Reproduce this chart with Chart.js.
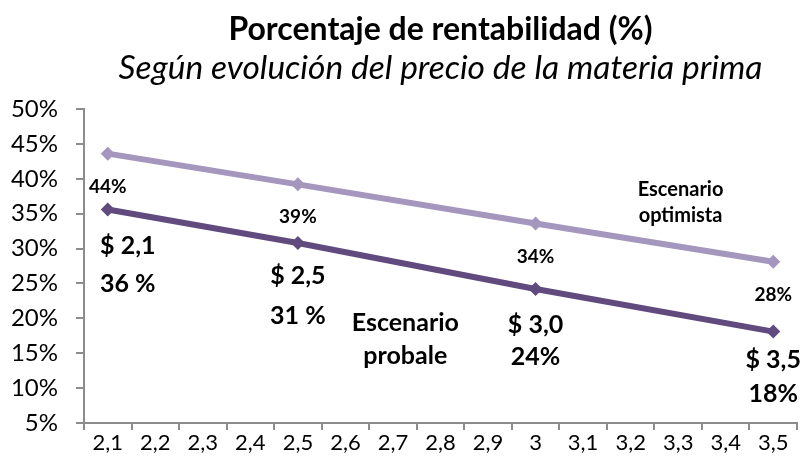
<!DOCTYPE html>
<html>
<head>
<meta charset="utf-8">
<script src="https://cdn.jsdelivr.net/npm/chart.js@4/dist/chart.umd.min.js"></script>
<style>
  html, body { margin: 0; padding: 0; background: #fff; }
  #wrap { width: 805px; height: 466px; }
</style>
</head>
<body>
<div id="wrap"><canvas id="chart" width="805" height="466"></canvas></div>
<script>
// x categories (price of raw material)
const categories = ["2,1", "2,2", "2,3", "2,4", "2,5", "2,6", "2,7", "2,8", "2,9", "3", "3,1", "3,2", "3,3", "3,4", "3,5"];

// rentabilidad (%) - only 4 prices have values
const optimista = [43.6, null, null, null, 39.2, null, null, null, null, 33.6, null, null, null, null, 28.1];
const probable  = [35.6, null, null, null, 30.8, null, null, null, null, 24.2, null, null, null, null, 18.1];

// label texts
const optimistaLabels = ["44%", "39%", "34%", "28%"];
const probablePrices = ["$ 2,1", "$ 2,5", "$ 3,0", "$ 3,5"];
const probablePcts = ["36 %", "31 %", "24%", "18%"];

const yTicks = [5, 10, 15, 20, 25, 30, 35, 40, 45, 50];

const FONT = "Lato, 'Open Sans', sans-serif";
const LIGHT = "#A596BE";
const DARK = "#614A7E";
const AXIS = "#8C8C8C";

// label offsets below the probable points (line 1 / line 2)
const off1 = [36, 33, 36, 28];
const off2 = [74, 73, 68, 62];

const pointLabels = {
    id: "pointLabels",
    afterDatasetsDraw(chart) {
        const ctx = chart.ctx;
        const x = chart.scales.x;
        const y = chart.scales.y;
        const area = chart.chartArea;
        const cx = (area.left + area.right) / 2;
        ctx.save();
        ctx.fillStyle = "#000";
        ctx.textAlign = "center";
        ctx.textBaseline = "middle";

        // titles, centred over the plot area like in excel
        ctx.font = "bold 32px " + FONT;
        ctx.fillText("Porcentaje de rentabilidad (%)", cx, 30);
        ctx.font = "italic 33.5px " + FONT;
        ctx.fillText("Según evolución del precio de la materia prima", cx, 68);

        // optimistic series: one label under each point
        ctx.font = "bold 19px " + FONT;
        let k = 0;
        chart.getDatasetMeta(0).data.forEach((pt, i) => {
            if (optimista[i] == null) return;
            ctx.fillText(optimistaLabels[k], pt.x, pt.y + 33);
            k++;
        });

        // probable series: price + percent
        ctx.font = "bold 25px " + FONT;
        k = 0;
        chart.getDatasetMeta(1).data.forEach((pt, i) => {
            if (probable[i] == null) return;
            const dx = k === 0 ? 20 : 0;
            ctx.fillText(probablePrices[k], pt.x + dx, pt.y + off1[k]);
            ctx.fillText(probablePcts[k], pt.x + dx, pt.y + off2[k]);
            k++;
        });

        // scenario names
        ctx.font = "bold 20px " + FONT;
        ctx.fillText("Escenario", x.getPixelForValue(12.05), y.getPixelForValue(38.4));
        ctx.fillText("optimista", x.getPixelForValue(12.05), y.getPixelForValue(34.8));
        ctx.font = "bold 25px " + FONT;
        ctx.fillText("Escenario", x.getPixelForValue(6.26), y.getPixelForValue(19.3));
        ctx.fillText("probale", x.getPixelForValue(6.26), y.getPixelForValue(14.6));
        ctx.restore();
    }
};

new Chart(document.getElementById("chart"), {
    type: "line",
    data: {
        labels: categories,
        datasets: [
            {
                label: "Escenario optimista",
                data: optimista,
                borderColor: LIGHT,
                backgroundColor: LIGHT,
                borderWidth: 6,
                pointStyle: "rectRot",
                pointRadius: 7,
                pointBorderWidth: 0,
                spanGaps: true,
            },
            {
                label: "Escenario probable",
                data: probable,
                borderColor: DARK,
                backgroundColor: DARK,
                borderWidth: 6,
                pointStyle: "rectRot",
                pointRadius: 7,
                pointBorderWidth: 0,
                spanGaps: true,
            },
        ],
    },
    options: {
        responsive: false,
        animation: false,
        layout: { padding: { top: 109, right: 8, left: 0, bottom: 0 } },
        plugins: {
            legend: { display: false },
            tooltip: { enabled: false },
            title: { display: false },
        },
        scales: {
            x: {
                offset: true,
                grid: {
                    offset: true,
                    drawOnChartArea: false,
                    drawTicks: true,
                    tickLength: 7,
                    color: AXIS,
                    lineWidth: 2,
                },
                border: { color: AXIS, width: 2 },
                ticks: {
                    color: "#000",
                    font: { family: FONT, size: 22 },
                    padding: 0,
                    maxRotation: 0,
                    autoSkip: false,
                },
                afterFit(scale) { scale.height = 43; },
            },
            y: {
                min: 5,
                max: 50,
                afterBuildTicks(scale) { scale.ticks = yTicks.map(v => ({ value: v })); },
                grid: {
                    drawOnChartArea: false,
                    drawTicks: true,
                    tickLength: 8,
                    color: AXIS,
                    lineWidth: 2,
                },
                border: { color: AXIS, width: 2 },
                ticks: {
                    color: "#000",
                    font: { family: FONT, size: 24 },
                    padding: 18,
                    callback: v => v + "%",
                },
                afterFit(scale) { scale.width = 84; },
            },
        },
    },
    plugins: [pointLabels],
});
</script>
</body>
</html>
